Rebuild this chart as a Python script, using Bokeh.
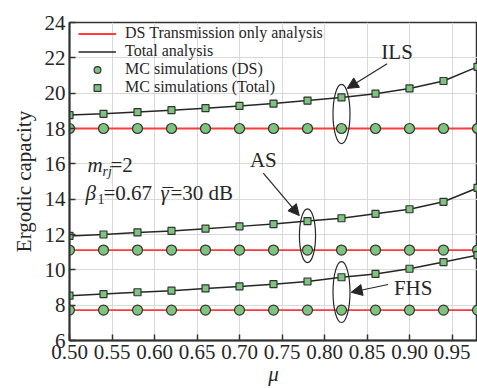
from bokeh.plotting import figure
from bokeh.models import Range1d, Legend, LegendItem, Arrow, NormalHead, FixedTicker
from bokeh.core.properties import value
from bokeh.embed import file_html
from bokeh.resources import INLINE

# ---------------- data ----------------
mu = [0.50, 0.54, 0.58, 0.62, 0.66, 0.70, 0.74, 0.78, 0.82, 0.86, 0.90, 0.94, 0.98]

ils_ds = [18.0] * 13
as_ds = [11.12] * 13
fhs_ds = [7.72] * 13

ils_total = [18.76, 18.83, 18.93, 19.04, 19.15, 19.28, 19.41, 19.58, 19.76, 19.97, 20.27, 20.69, 21.49]
as_total = [11.92, 12.00, 12.12, 12.20, 12.33, 12.46, 12.59, 12.76, 12.92, 13.17, 13.43, 13.85, 14.64]
fhs_total = [8.54, 8.63, 8.73, 8.82, 8.95, 9.06, 9.19, 9.34, 9.58, 9.77, 10.06, 10.44, 10.83]

x_ticks = [0.50, 0.55, 0.60, 0.65, 0.70, 0.75, 0.80, 0.85, 0.90, 0.95]
y_ticks = [6, 8, 10, 12, 14, 16, 18, 20, 22, 24]

legend_labels = ["DS Transmission only analysis", "Total analysis",
                 "MC simulations (DS)", "MC simulations (Total)"]

# annotation anchors (data coords)
scheme_names = ["ILS", "AS", "FHS"]
scheme_label_x = [0.8854, 0.728, 0.9043]
scheme_label_y = [22.33, 16.2, 8.95]
arrow_start = [(0.8737, 21.66), (0.728, 15.47), (0.8749, 9.17)]
arrow_end = [(0.8267, 20.27), (0.7703, 13.07), (0.8314, 8.73)]
ell_x = [0.82, 0.78, 0.82]
ell_y = [18.82, 11.93, 8.74]
ell_w = [0.020, 0.019, 0.020]
ell_h = [3.35, 3.05, 3.44]

SERIF = "Liberation Serif"
RED = "#ff3b3b"
GREEN = "#7dc47f"
INK = "#262626"

p = figure(width=477, height=388, output_backend="svg", toolbar_location=None,
           x_range=Range1d(0.50, 0.98), y_range=Range1d(6, 24),
           min_border_left=69, min_border_right=0, min_border_top=22, min_border_bottom=43)
p.background_fill_color = "white"
p.border_fill_color = "white"
p.outline_line_color = "#333333"
p.outline_line_width = 1.5

# grids
p.xgrid.ticker = FixedTicker(ticks=x_ticks)
p.ygrid.ticker = FixedTicker(ticks=y_ticks)
for g in (p.xgrid, p.ygrid):
    g.grid_line_color = "#d9d9d9"
    g.grid_line_width = 1

# axes
p.xaxis.ticker = FixedTicker(ticks=x_ticks)
p.yaxis.ticker = FixedTicker(ticks=y_ticks)
p.xaxis.major_label_overrides = {t: f"{t:.2f}" for t in x_ticks}
for ax in (p.xaxis, p.yaxis):
    ax.axis_line_color = "#333333"
    ax.axis_line_width = 2
    ax.major_tick_in = 6
    ax.major_tick_out = 0
    ax.major_tick_line_color = "#333333"
    ax.major_tick_line_width = 1.5
    ax.minor_tick_line_color = None
    ax.major_label_text_font = SERIF
    ax.major_label_text_font_size = "21px"
    ax.major_label_text_color = INK
    ax.axis_label_text_font = SERIF
    ax.axis_label_text_font_size = "21px"
    ax.axis_label_text_color = INK
p.xaxis.major_label_standoff = 4
p.yaxis.major_label_standoff = 4
p.xaxis.axis_label = "μ"
p.xaxis.axis_label_text_font_style = "italic"
p.xaxis.axis_label_standoff = 0
p.yaxis.axis_label = "Ergodic capacity"
p.yaxis.axis_label_text_font_style = "normal"
p.yaxis.axis_label_standoff = 6

# lines
red_lines = []
for ys in (ils_ds, as_ds, fhs_ds):
    red_lines.append(p.line(mu, ys, line_color=RED, line_width=1.8))
black_lines = []
for ys in (ils_total, as_total, fhs_total):
    black_lines.append(p.line(mu, ys, line_color=INK, line_width=1.5))

# ellipses
p.ellipse(x=ell_x, y=ell_y, width=ell_w, height=ell_h, fill_color=None,
          line_color=INK, line_width=1.2)

# markers
circles = []
for ys in (ils_ds, as_ds, fhs_ds):
    circles.append(p.scatter(mu, ys, marker="circle", size=10, fill_color=GREEN,
                             line_color="#333333", line_width=1.2))
squares = []
for ys in (ils_total, as_total, fhs_total):
    squares.append(p.scatter(mu, ys, marker="square", size=7, fill_color=GREEN,
                             line_color="#333333", line_width=1.2))

# arrows
for (x0, y0), (x1, y1) in zip(arrow_start, arrow_end):
    p.add_layout(Arrow(end=NormalHead(size=11, fill_color=INK, line_color=INK),
                       x_start=x0, y_start=y0, x_end=x1, y_end=y1,
                       line_color=INK, line_width=1.2))

# scheme labels
p.text(x=scheme_label_x, y=scheme_label_y, text=scheme_names,
       text_font=value(SERIF), text_font_size="21px", text_color=INK,
       text_align="center", text_baseline="middle")

# parameter annotations
mx, my = 0.5212, 15.92
p.text(x=[mx], y=[my], text=["m"], text_font=value(SERIF), text_font_size="21px",
       text_font_style="italic", text_color=INK, text_baseline="middle")
p.text(x=[mx], y=[my], text=["rj"], x_offset=15, y_offset=6, text_font=value(SERIF),
       text_font_size="14px", text_font_style="italic", text_color=INK,
       text_baseline="middle")
p.text(x=[mx], y=[my], text=["=2"], x_offset=23, text_font=value(SERIF),
       text_font_size="21px", text_color=INK, text_baseline="middle")

bx, by = 0.5188, 14.36
p.text(x=[bx], y=[by], text=["β"], text_font=value(SERIF), text_font_size="21px",
       text_font_style="italic", text_color=INK, text_baseline="middle")
p.text(x=[bx], y=[by], text=["1"], x_offset=12, y_offset=6, text_font=value(SERIF),
       text_font_size="14px", text_color=INK, text_baseline="middle")
p.text(x=[bx], y=[by], text=["=0.67"], x_offset=18, text_font=value(SERIF),
       text_font_size="21px", text_color=INK, text_baseline="middle")
p.text(x=[bx], y=[by], text=["γ"], x_offset=75, text_font=value(SERIF),
       text_font_size="21px", text_font_style="italic", text_color=INK,
       text_baseline="middle")
p.text(x=[bx], y=[by], text=["¯"], x_offset=77, y_offset=3, text_font=value(SERIF),
       text_font_size="21px", text_color=INK, text_baseline="middle")
p.text(x=[bx], y=[by], text=["=30 dB"], x_offset=85, text_font=value(SERIF),
       text_font_size="21px", text_color=INK, text_baseline="middle")

# legend
frame_h = 388 - 22 - 43
legend = Legend(items=[
    LegendItem(label=legend_labels[0], renderers=[red_lines[0]]),
    LegendItem(label=legend_labels[1], renderers=[black_lines[0]]),
    LegendItem(label=legend_labels[2], renderers=[circles[0]]),
    LegendItem(label=legend_labels[3], renderers=[squares[0]]),
], location=(9, frame_h - 79), orientation="vertical")
legend.margin = 0
legend.padding = 4
legend.spacing = 0
legend.glyph_width = 38
legend.glyph_height = 17
legend.label_height = 17
legend.label_standoff = 9
legend.label_text_font = SERIF
legend.label_text_font_size = "16px"
legend.label_text_color = INK
legend.label_text_baseline = "middle"
legend.background_fill_alpha = 0
legend.border_line_color = None
p.add_layout(legend)

open("out.html", "w").write(file_html(p, INLINE))
